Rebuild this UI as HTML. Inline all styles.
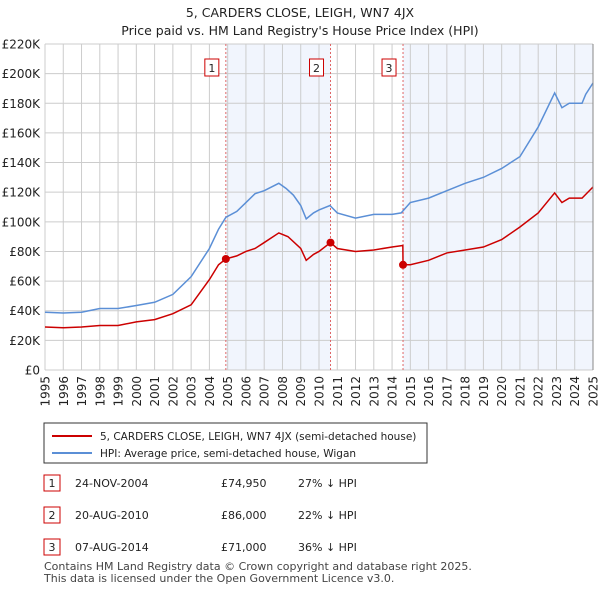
<!DOCTYPE html>
<html><head><meta charset="utf-8"><style>
body{margin:0;background:#fff;width:600px;height:590px;overflow:hidden;font-family:"Liberation Sans",sans-serif;}
svg text{font-family:"DejaVu Sans","Liberation Sans",sans-serif;}
</style></head><body>
<svg id="c" width="600" height="590" viewBox="0 0 600 590" xmlns="http://www.w3.org/2000/svg">
<text x="300" y="17" text-anchor="middle" font-size="12.5" fill="#222">5, CARDERS CLOSE, LEIGH, WN7 4JX</text>
<text x="300" y="35" text-anchor="middle" font-size="12.5" fill="#222">Price paid vs. HM Land Registry's House Price Index (HPI)</text>
<g id="plot"></g>
<g>
<rect x="44" y="423" width="383" height="40" fill="#fff" stroke="#333" stroke-width="1"/>
<line x1="52" y1="436" x2="92" y2="436" stroke="#cc0000" stroke-width="2"/>
<text x="100" y="440" font-size="10.5" fill="#222">5, CARDERS CLOSE, LEIGH, WN7 4JX (semi-detached house)</text>
<line x1="52" y1="453" x2="92" y2="453" stroke="#5b8fd6" stroke-width="2"/>
<text x="100" y="457" font-size="10.5" fill="#222">HPI: Average price, semi-detached house, Wigan</text>
</g>
<g font-size="11" fill="#222">
<g><rect x="44" y="475" width="16" height="16" fill="#fff" stroke="#cc0000"/><text x="52" y="487" text-anchor="middle">1</text><text x="75" y="487">24-NOV-2004</text><text x="221" y="487">£74,950</text><text x="298" y="487">27% ↓ HPI</text></g>
<g><rect x="44" y="507" width="16" height="16" fill="#fff" stroke="#cc0000"/><text x="52" y="519" text-anchor="middle">2</text><text x="75" y="519">20-AUG-2010</text><text x="221" y="519">£86,000</text><text x="298" y="519">22% ↓ HPI</text></g>
<g><rect x="44" y="539" width="16" height="16" fill="#fff" stroke="#cc0000"/><text x="52" y="551" text-anchor="middle">3</text><text x="75" y="551">07-AUG-2014</text><text x="221" y="551">£71,000</text><text x="298" y="551">36% ↓ HPI</text></g>
</g>
<text x="44" y="570" font-size="11" fill="#444">Contains HM Land Registry data © Crown copyright and database right 2025.</text>
<text x="44" y="582" font-size="11" fill="#444">This data is licensed under the Open Government Licence v3.0.</text>
</svg>
<script>
const hpiYears=[1995,1996,1997,1998,1999,2000,2001,2002,2003,2004,2004.5,2004.9,2005.5,2006,2006.5,2007,2007.8,2008.2,2008.6,2009,2009.3,2009.7,2010,2010.6,2011,2012,2013,2014,2014.5,2015,2016,2017,2018,2019,2020,2020.5,2021,2022,2022.9,2023.3,2023.7,2024.4,2024.6,2025];
const hpiValues=[39,38.5,39,41.5,41.5,43.5,45.7,51,63,82,95,103,107,113,119,121,126,122.5,118,111,102,106,108,111,106,102.5,105,105,106,113,116,121,126,130,136,140,144,164,187,177,180,180,186,193.7];
const priceYears=[1995,1996,1997,1998,1999,2000,2001,2002,2003,2004,2004.5,2004.9,2005.5,2006,2006.5,2007,2007.8,2008.3,2009,2009.3,2009.7,2010,2010.63,2011,2012,2013,2014,2014.59,2014.6,2015,2016,2017,2018,2019,2020,2021,2022,2022.9,2023.3,2023.7,2024.4,2025];
const priceValues=[29,28.5,29,30,30,32.5,34,38,44,61,71,74.95,77,80,82,86,92.5,90,82,74,78,80,86,82,80,81,83,84,71,71,74,79,81,83,88,96.5,106,119.5,113,116,116,123.5];
const saleYears=[2004.9,2010.63,2014.6];
const saleValues=[74.95,86,71];
const saleLabels=["1","2","3"];
const yTicks=[0,20,40,60,80,100,120,140,160,180,200,220];
const xTicks=[1995,1996,1997,1998,1999,2000,2001,2002,2003,2004,2005,2006,2007,2008,2009,2010,2011,2012,2013,2014,2015,2016,2017,2018,2019,2020,2021,2022,2023,2024,2025];
const X0=45,X1=593,Y0=370,Y1=44;
const sx=y=>X0+(y-1995)/30*(X1-X0);
const sy=v=>Y0-v/220*(Y0-Y1);
const NS="http://www.w3.org/2000/svg";
const g=document.getElementById('plot');
function mk(t,a){const e=document.createElementNS(NS,t);for(const k in a)e.setAttribute(k,a[k]);g.appendChild(e);return e;}
let r1=mk('rect',{x:sx(saleYears[0]),y:Y1,width:sx(saleYears[1])-sx(saleYears[0]),height:Y0-Y1,fill:'#eef3fc',opacity:0.8});


let r2=mk('rect',{x:sx(saleYears[2]),y:Y1,width:X1-sx(saleYears[2]),height:Y0-Y1,fill:'#eef3fc',opacity:0.8});


yTicks.forEach(v=>{
 let l=mk('line',{x1:X0,x2:X1,y1:sy(v),y2:sy(v),stroke:'#cccccc','stroke-width':1});
 
 
 let t=mk('text',{x:40,y:sy(v)+4.5,'text-anchor':'end','font-size':12,fill:'#222'});
 t.textContent=v===0?'£0':'£'+v+'K';
 
 
});
xTicks.forEach(y=>{
 let l=mk('line',{x1:sx(y),x2:sx(y),y1:Y1,y2:Y0,stroke:'#cccccc','stroke-width':1});
 
 
 let t=mk('text',{x:0,y:0,'text-anchor':'end','font-size':12,fill:'#222',transform:`translate(${sx(y)+4.5},376) rotate(-90)`});
 t.textContent=y;
 
 
});
saleYears.forEach((y,i)=>{
 let l=mk('line',{x1:sx(y),x2:sx(y),y1:Y1,y2:Y0,stroke:'#e06666','stroke-width':1,'stroke-dasharray':'2,2'});
 
 
 let b=mk('rect',{x:sx(y)-21,y:59,width:14,height:17,fill:'#fff',stroke:'#cc0000'});
 
 
 let t=mk('text',{x:sx(y)-14,y:72,'text-anchor':'middle','font-size':11,fill:'#222'});
 t.textContent=saleLabels[i];
 
 
});
let hp=mk('polyline',{points:hpiYears.map((y,i)=>sx(y)+','+sy(hpiValues[i])).join(' '),fill:'none',stroke:'#5b8fd6','stroke-width':1.5});


let pp=mk('polyline',{points:priceYears.map((y,i)=>sx(y)+','+sy(priceValues[i])).join(' '),fill:'none',stroke:'#cc0000','stroke-width':1.5});


saleYears.forEach((y,i)=>{
 let c=mk('circle',{cx:sx(y),cy:sy(saleValues[i]),r:4,fill:'#cc0000'});
 
 
});
let ax=mk('line',{x1:X1,x2:X1,y1:Y1,y2:Y0,stroke:'#888','stroke-width':1});


</script>
</body></html>
